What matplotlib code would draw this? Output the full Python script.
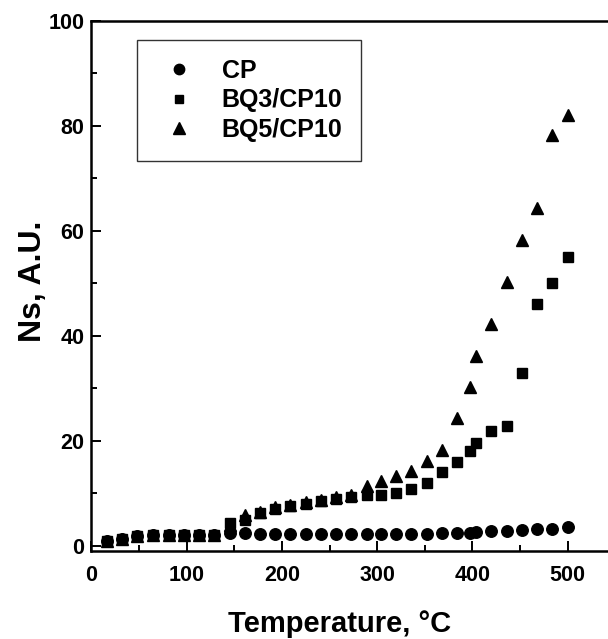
import matplotlib
matplotlib.use("Agg")
import matplotlib.pyplot as plt
from matplotlib.ticker import MultipleLocator

plt.rcParams['font.family'] = ['Liberation Sans', 'DejaVu Sans']
plt.rcParams['font.weight'] = 'bold'

temperature = [16, 32, 48, 65, 81, 97, 113, 129, 145, 161, 177, 193, 209, 225, 241, 257,
               273, 289, 304, 320, 336, 352, 368, 384, 398, 404, 420, 436, 452, 468, 484, 500]

cp = [1.0, 1.2, 1.8, 2.0, 2.0, 2.0, 2.0, 2.0, 2.4, 2.4, 2.3, 2.3, 2.2, 2.2, 2.3, 2.3,
      2.3, 2.3, 2.3, 2.3, 2.3, 2.3, 2.4, 2.4, 2.5, 2.6, 2.8, 2.9, 3.0, 3.1, 3.2, 3.6]

bq3_cp10 = [1.0, 1.2, 1.9, 2.0, 2.0, 2.1, 2.1, 2.1, 4.3, 5.0, 6.2, 7.0, 7.5, 8.0, 8.5, 9.0,
            9.2, 9.6, 9.6, 10.0, 10.9, 12.0, 14.0, 16.0, 18.0, 19.6, 21.9, 22.9, 33.0, 46.0, 50.0, 55.0]

bq5_cp10 = [1.0, 1.2, 1.9, 2.0, 2.0, 2.1, 2.1, 2.1, 4.0, 5.8, 6.5, 7.3, 7.8, 8.3, 8.8, 9.3,
            9.7, 11.3, 12.3, 13.3, 14.3, 16.2, 18.2, 24.3, 30.3, 36.1, 42.3, 50.2, 58.2, 64.3, 78.3, 82.0]

labels = ["CP", "BQ3/CP10", "BQ5/CP10"]

W, H = 608, 639
fig = plt.figure(figsize=(W / 100, H / 100), dpi=100)
left_px, right_px, top_px, bottom_px = 91.4, 91.4 + 550 * 0.9525, 21, 551
ax = fig.add_axes([left_px / W, 1 - bottom_px / H, (right_px - left_px) / W, (bottom_px - top_px) / H])

ax.plot(temperature, cp, linestyle='none', marker='o', markersize=8.3, color='black', label=labels[0])
ax.plot(temperature, bq3_cp10, linestyle='none', marker='s', markersize=7.0, color='black', label=labels[1])
ax.plot(temperature, bq5_cp10, linestyle='none', marker='^', markersize=9.0, color='black', label=labels[2])

ax.set_xlim(0, 550)
ax.set_ylim(-1, 100)
ax.xaxis.set_major_locator(MultipleLocator(100))
ax.xaxis.set_minor_locator(MultipleLocator(50))
ax.yaxis.set_major_locator(MultipleLocator(20))
ax.yaxis.set_minor_locator(MultipleLocator(10))
ax.tick_params(which='both', direction='in', width=1.4, labelsize=15.5)
ax.tick_params(which='major', length=7)
ax.tick_params(which='minor', length=4)
ax.tick_params(axis='x', which='major', pad=10)
ax.tick_params(axis='y', which='major', pad=5)
for lab in ax.get_xticklabels() + ax.get_yticklabels():
    lab.set_fontweight('bold')
for s in ax.spines.values():
    s.set_linewidth(1.8)
ax.spines['right'].set_visible(False)

ax.set_xlabel("Temperature, °C", fontsize=21, fontweight='bold')
ax.set_ylabel("Ns, A.U.", fontsize=23, fontweight='bold')
ax.xaxis.set_label_coords(0.4745, -0.111)
ax.yaxis.set_label_coords(-0.082, 0.509)

leg = ax.legend(loc='upper left', bbox_to_anchor=(0.087, 0.964), frameon=True, fancybox=False,
                edgecolor='black', fontsize=18, handletextpad=0.8, labelspacing=0.22,
                borderpad=0.75, handlelength=1.84, borderaxespad=0, markerscale=0.9)
leg.get_frame().set_linewidth(1.0)
for t in leg.get_texts():
    t.set_fontweight('bold')

fig.savefig("out.png", dpi=100)
